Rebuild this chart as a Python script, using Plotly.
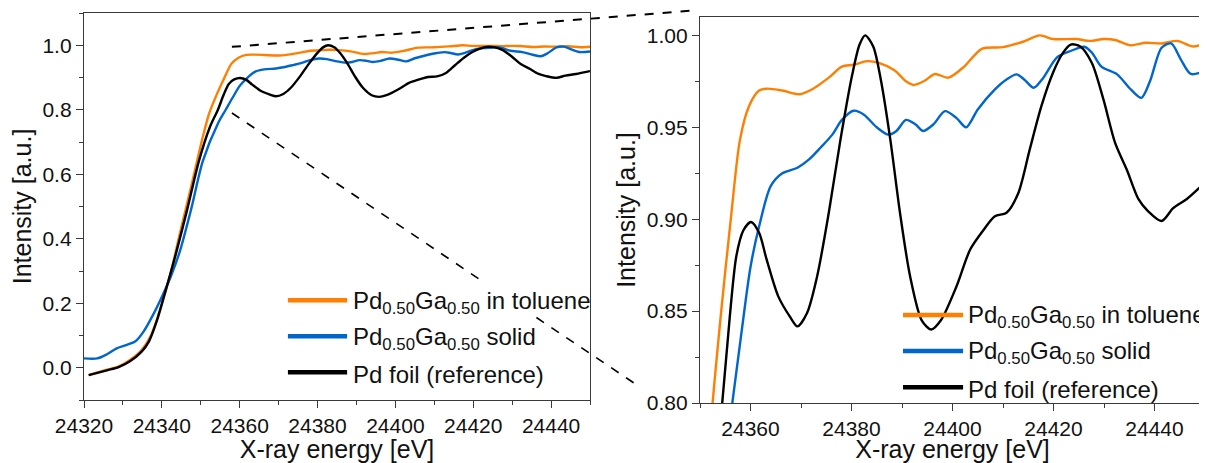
import plotly.graph_objects as go

# ---------------- data ----------------
toluene_E = [24321.2, 24325.9, 24328.9, 24331.8, 24334.8, 24337.2, 24339.7, 24342.2, 24344.6, 24347.6,
             24350.4, 24352.2, 24354.2, 24356.1, 24357.9, 24359.7, 24361.7, 24363.2, 24366.3, 24369.7,
             24372.4, 24375.5, 24378.1, 24380.4, 24383.1, 24385.4, 24388.5, 24390.8, 24392.3, 24394.6,
             24396.5, 24399.2, 24402.3, 24405.8, 24410.0, 24413.8, 24417.3, 24419.9, 24424.5, 24427.2,
             24429.9, 24432.2, 24435.3, 24438.3, 24441.4, 24444.5, 24447.5, 24450.0]
toluene_I = [-0.023, -0.006, 0.004, 0.024, 0.055, 0.100, 0.185, 0.290, 0.415, 0.565,
             0.710, 0.790, 0.850, 0.900, 0.943, 0.9615, 0.970, 0.971, 0.970, 0.968,
             0.971, 0.977, 0.983, 0.984, 0.986, 0.985, 0.981, 0.975, 0.973, 0.9755,
             0.979, 0.977, 0.983, 0.9927, 0.9936, 0.9964, 1.000, 0.998, 0.998, 0.997,
             0.998, 0.9975, 0.9946, 0.996, 0.9956, 0.997, 0.994, 0.9955]

solid_E = [24320.0, 24323.4, 24325.9, 24328.4, 24330.8, 24333.3, 24335.3, 24337.7, 24340.2, 24342.2,
           24344.6, 24347.6, 24350.5, 24354.5, 24356.4, 24358.2, 24360.0, 24361.7, 24364.0, 24366.3,
           24369.3, 24371.6, 24373.9, 24376.2, 24378.1, 24380.4, 24382.4, 24385.0, 24387.3, 24388.9,
           24390.8, 24392.7, 24394.2, 24396.2, 24398.5, 24400.8, 24402.7, 24405.0, 24408.4, 24410.7,
           24412.7, 24414.2, 24416.1, 24418.0, 24420.7, 24423.4, 24426.1, 24427.6, 24429.5, 24432.6,
           24435.3, 24437.4, 24439.1, 24441.4, 24443.3, 24445.2, 24447.2, 24450.0]
solid_I = [0.029, 0.029, 0.042, 0.060, 0.070, 0.083, 0.112, 0.163, 0.225, 0.280,
           0.360, 0.495, 0.640, 0.760, 0.800, 0.838, 0.874, 0.896, 0.918, 0.925,
           0.928, 0.9325, 0.939, 0.946, 0.954, 0.959, 0.957, 0.950, 0.946, 0.948,
           0.954, 0.9515, 0.948, 0.9515, 0.9588, 0.955, 0.950, 0.9597, 0.9706, 0.976,
           0.9788, 0.976, 0.9715, 0.977, 0.988, 0.9915, 0.9938, 0.9906, 0.983, 0.9788,
           0.9706, 0.966, 0.975, 0.9933, 0.9956, 0.987, 0.979, 0.9806]

foil_E = [24321.2, 24325.9, 24328.9, 24331.8, 24334.8, 24336.7, 24338.7, 24340.7, 24343.6, 24346.6,
          24349.5, 24352.3, 24354.4, 24355.9, 24357.2, 24358.6, 24360.1, 24361.7, 24363.2, 24365.5,
          24367.8, 24369.3, 24371.2, 24373.2, 24375.5, 24377.8, 24380.1, 24381.6, 24382.7, 24384.3,
          24385.8, 24387.7, 24389.6, 24391.6, 24393.9, 24395.8, 24397.7, 24400.8, 24403.5, 24406.1,
          24408.4, 24410.7, 24413.0, 24415.3, 24417.6, 24419.9, 24421.9, 24423.4, 24425.3, 24427.6,
          24429.9, 24432.2, 24434.5, 24436.8, 24438.7, 24441.4, 24443.7, 24446.4, 24450.0]
foil_I = [-0.023, -0.008, 0.002, 0.020, 0.050, 0.082, 0.145, 0.228, 0.353, 0.495,
          0.640, 0.745, 0.800, 0.847, 0.880, 0.894, 0.8985, 0.8926, 0.878, 0.858,
          0.847, 0.8417, 0.849, 0.869, 0.9035, 0.943, 0.978, 0.995, 1.000, 0.994,
          0.976, 0.943, 0.9035, 0.869, 0.845, 0.840, 0.845, 0.8635, 0.8835, 0.894,
          0.9016, 0.9035, 0.914, 0.938, 0.9615, 0.9797, 0.9906, 0.995, 0.994, 0.985,
          0.965, 0.9415, 0.927, 0.911, 0.9044, 0.899, 0.906, 0.911, 0.920]

series_names = ["Pd<sub>0.50</sub>Ga<sub>0.50</sub> in toluene",
                "Pd<sub>0.50</sub>Ga<sub>0.50</sub> solid",
                "Pd foil (reference)"]
series_colors = ["#ff7f00", "#0066cc", "#000000"]
series_data = [(toluene_E, toluene_I), (solid_E, solid_I), (foil_E, foil_I)]

left_xticks = [24320, 24340, 24360, 24380, 24400, 24420, 24440]
right_xticks = [24360, 24380, 24400, 24420, 24440]
left_yticks = [0.0, 0.2, 0.4, 0.6, 0.8, 1.0]
right_yticks = [0.80, 0.85, 0.90, 0.95, 1.00]

# ---------------- layout geometry ----------------
PAGE_W, PAGE_H = 1207, 463
OFF = 8                      # default page margin around the plot div
W, H = PAGE_W - OFF, PAGE_H - OFF


def fx(px):                  # page pixel -> paper fraction (x)
    return (px - OFF) / W


def fy(py):                  # page pixel (from top) -> paper fraction (y)
    return (PAGE_H - py) / H


L_dom_x = [fx(84), fx(590)]
L_dom_y = [fy(400), fy(13)]
R_dom_x = [fx(700), fx(1205)]
R_dom_y = [fy(403), fy(17)]
L_rx, L_ry = [24320, 24450], [-0.1, 1.1]
R_rx, R_ry = [24350, 24450], [0.80, 1.01]


def to_paper(x, y, dx, dy, rx, ry):
    px = dx[0] + (x - rx[0]) / (rx[1] - rx[0]) * (dx[1] - dx[0])
    py = dy[0] + (y - ry[0]) / (ry[1] - ry[0]) * (dy[1] - dy[0])
    return px, py


fig = go.Figure()
for xa, ya in (("x", "y"), ("x2", "y2")):
    for (E, I), name, col in zip(series_data, series_names, series_colors):
        fig.add_trace(go.Scatter(x=E, y=I, mode="lines", name=name, showlegend=False,
                                 line=dict(color=col, width=2.4, shape="spline", smoothing=0.8),
                                 xaxis=xa, yaxis=ya, cliponaxis=True, hoverinfo="x+y"))

FONT = "Liberation Sans, Arial, sans-serif"
tickfont = dict(family=FONT, size=21, color="#111111")
titlefont = dict(family=FONT, size=25, color="#111111")
axcommon = dict(showgrid=False, zeroline=False, showline=True, mirror=True, automargin=False,
                linecolor="#3a3a3a", linewidth=1.3, ticks="outside", ticklen=7,
                tickwidth=1.2, tickcolor="#3a3a3a", tickfont=tickfont)

fig.update_layout(
    template="none",
    width=W, height=H, margin=dict(l=0, r=0, t=0, b=0, pad=0),
    paper_bgcolor="white", plot_bgcolor="white", showlegend=False,
    font=dict(family=FONT, color="#111111"),
    xaxis=dict(domain=L_dom_x, range=L_rx, anchor="y", tickmode="array", tickvals=left_xticks,
               tickformat="d",
               minor=dict(dtick=10, tick0=24320, ticks="outside", ticklen=4, tickcolor="#3a3a3a"),
               title=dict(text="X-ray energy [eV]", font=titlefont, standoff=3), **axcommon),
    yaxis=dict(domain=L_dom_y, range=L_ry, anchor="x", tickmode="array", tickvals=left_yticks,
               tickformat=".1f",
               minor=dict(dtick=0.1, tick0=0, ticks="outside", ticklen=4, tickcolor="#3a3a3a"),
               title=dict(text="Intensity [a.u.]", font=titlefont, standoff=6), **axcommon),
    xaxis2=dict(domain=R_dom_x, range=R_rx, anchor="y2", tickmode="array", tickvals=right_xticks,
                tickformat="d",
                minor=dict(dtick=10, tick0=24350, ticks="outside", ticklen=4, tickcolor="#3a3a3a"),
                title=dict(text="X-ray energy [eV]", font=titlefont, standoff=6), **axcommon),
    yaxis2=dict(domain=R_dom_y, range=R_ry, anchor="x2", tickmode="array", tickvals=right_yticks,
                tickformat=".2f",
                minor=dict(dtick=0.025, tick0=0.8, ticks="outside", ticklen=4, tickcolor="#3a3a3a"),
                title=dict(text="Intensity [a.u.]", font=titlefont, standoff=4), **axcommon),
)

# ---------------- zoom connector lines ----------------
zoom_start_E = 24358
up_start = to_paper(zoom_start_E, 0.995, L_dom_x, L_dom_y, L_rx, L_ry)
lo_start = to_paper(zoom_start_E, 0.79, L_dom_x, L_dom_y, L_rx, L_ry)
up_end = to_paper(24348.2, 1.0134, R_dom_x, R_dom_y, R_rx, R_ry)
lo_end = to_paper(24337.5, 0.8098, R_dom_x, R_dom_y, R_rx, R_ry)
fig.add_shape(type="line", xref="paper", yref="paper", x0=up_start[0], y0=up_start[1],
              x1=up_end[0], y1=up_end[1], line=dict(color="black", width=2, dash="dash"), layer="above")

# lower connector is interrupted where it passes behind the legend entries
LO_GAP = (0.612, 0.752)      # fraction of the connector length that is hidden


def lerp(a, b, t):
    return a[0] + (b[0] - a[0]) * t, a[1] + (b[1] - a[1]) * t


for t0, t1 in ((0.0, LO_GAP[0]), (LO_GAP[1], 1.0)):
    p0, p1 = lerp(lo_start, lo_end, t0), lerp(lo_start, lo_end, t1)
    fig.add_shape(type="line", xref="paper", yref="paper", x0=p0[0], y0=p0[1], x1=p1[0], y1=p1[1],
                  line=dict(color="black", width=1.6, dash="dash"), layer="above")

# ---------------- legends (drawn manually) ----------------
legfont = dict(family=FONT, size=24, color="#111111")
leg_specs = [
    ("x domain", "y domain", [0.403, 0.520], 0.524, [0.258, 0.165, 0.072]),
    ("x2 domain", "y2 domain", [0.402, 0.521], 0.523, [0.228, 0.135, 0.041]),
]
for xr, yr, (lx0, lx1), tx, ys in leg_specs:
    for name, col, yy in zip(series_names, series_colors, ys):
        fig.add_shape(type="line", xref=xr, yref=yr, x0=lx0, x1=lx1, y0=yy, y1=yy,
                      line=dict(color=col, width=4.5), layer="above")
        fig.add_annotation(xref=xr, yref=yr, x=tx, y=yy, text=name, showarrow=False,
                           xanchor="left", yanchor="middle", font=legfont,
                           borderpad=3, yshift=-2)

fig.write_html("out.html")
